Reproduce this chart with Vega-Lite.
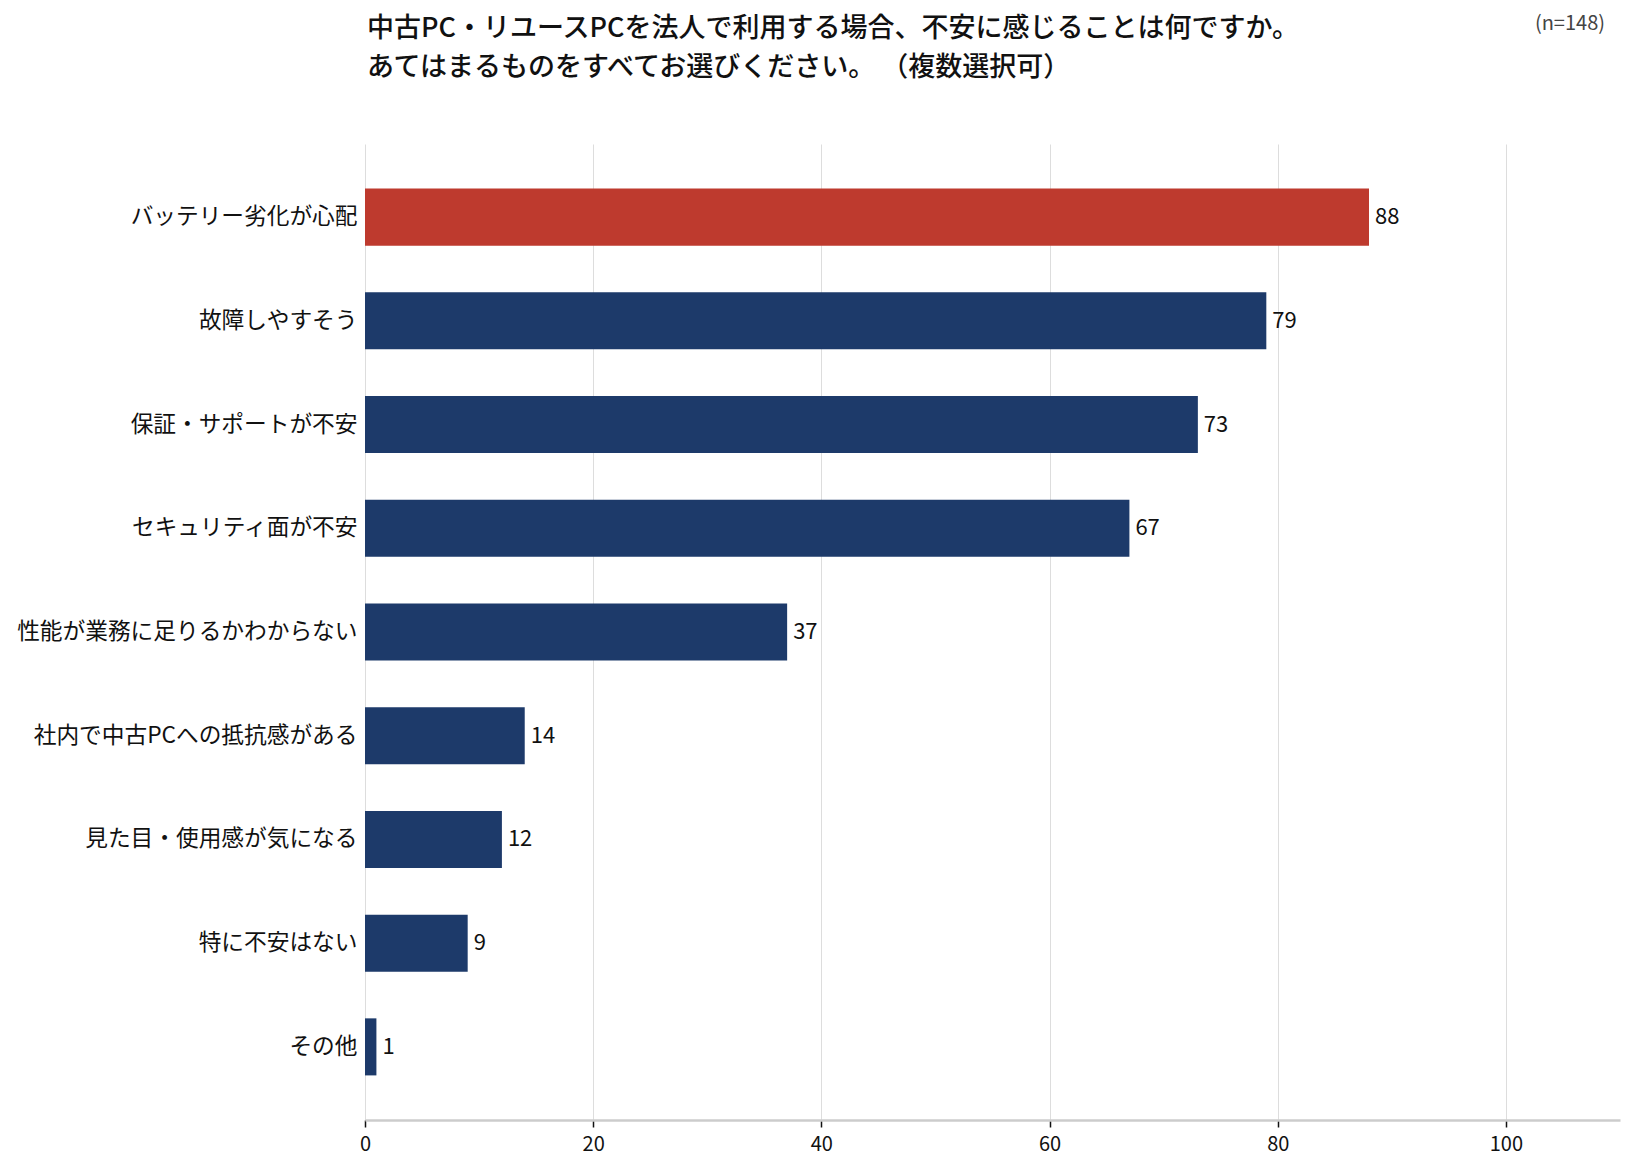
{
  "$schema": "https://vega.github.io/schema/vega-lite/v6.json",
  "autosize": {"type": "none"},
  "padding": {"left": 365, "top": 144, "right": 15, "bottom": 52},
  "width": 1255,
  "height": 976,
  "background": "white",
  "config": {
    "view": {"stroke": null},
    "font": "Noto Sans CJK JP"
  },
  "title": {
    "text": [
      "中古PC・リユースPCを法人で利用する場合、不安に感じることは何ですか。",
      "あてはまるものをすべてお選びください。 （複数選択可）"
    ],
    "anchor": "start",
    "frame": "group",
    "dx": 2,
    "offset": -68,
    "fontSize": 27,
    "lineHeight": 39,
    "fontWeight": 500,
    "color": "#111111"
  },
  "datasets": {
    "answers": [
      {"item": "バッテリー劣化が心配", "count": 88},
      {"item": "故障しやすそう", "count": 79},
      {"item": "保証・サポートが不安", "count": 73},
      {"item": "セキュリティ面が不安", "count": 67},
      {"item": "性能が業務に足りるかわからない", "count": 37},
      {"item": "社内で中古PCへの抵抗感がある", "count": 14},
      {"item": "見た目・使用感が気になる", "count": 12},
      {"item": "特に不安はない", "count": 9},
      {"item": "その他", "count": 1}
    ],
    "note": [{"label": "(n=148)", "x": 110}]
  },
  "layer": [
    {
      "data": {"name": "answers"},
      "mark": {"type": "bar"},
      "encoding": {
        "y": {
          "field": "item",
          "type": "nominal",
          "sort": null,
          "scale": {"paddingInner": 0.45, "paddingOuter": 0.43},
          "axis": {
            "title": null,
            "domain": false,
            "ticks": false,
            "labelFontSize": 22.7,
            "labelColor": "#111111",
            "labelPadding": 8,
            "labelLimit": 400
          }
        },
        "x": {
          "field": "count",
          "type": "quantitative",
          "scale": {"domain": [0, 110], "nice": false},
          "axis": {
            "title": null,
            "values": [0, 20, 40, 60, 80, 100],
            "grid": true,
            "gridColor": "#dddddd",
            "gridWidth": 1,
            "domainColor": "#cccccc",
            "domainWidth": 2.5,
            "tickColor": "#111111",
            "tickSize": 7,
            "tickWidth": 1.5,
            "labelFlush": false,
            "labelFontSize": 20,
            "labelColor": "#111111",
            "labelPadding": 7
          }
        },
        "color": {
          "condition": {"test": "datum.item === 'バッテリー劣化が心配'", "value": "#BE3A2E"},
          "value": "#1D3A6A"
        }
      }
    },
    {
      "data": {"name": "answers"},
      "mark": {
        "type": "text",
        "align": "left",
        "baseline": "middle",
        "dx": 6,
        "fontSize": 22,
        "color": "#111111"
      },
      "encoding": {
        "y": {"field": "item", "type": "nominal", "sort": null},
        "x": {"field": "count", "type": "quantitative"},
        "text": {"field": "count", "type": "quantitative"}
      }
    },
    {
      "data": {"name": "note"},
      "mark": {
        "type": "text",
        "align": "right",
        "baseline": "middle",
        "dx": -15,
        "y": -120,
        "fontSize": 20,
        "color": "#444444"
      },
      "encoding": {
        "x": {"field": "x", "type": "quantitative"},
        "text": {"field": "label"}
      }
    }
  ]
}
